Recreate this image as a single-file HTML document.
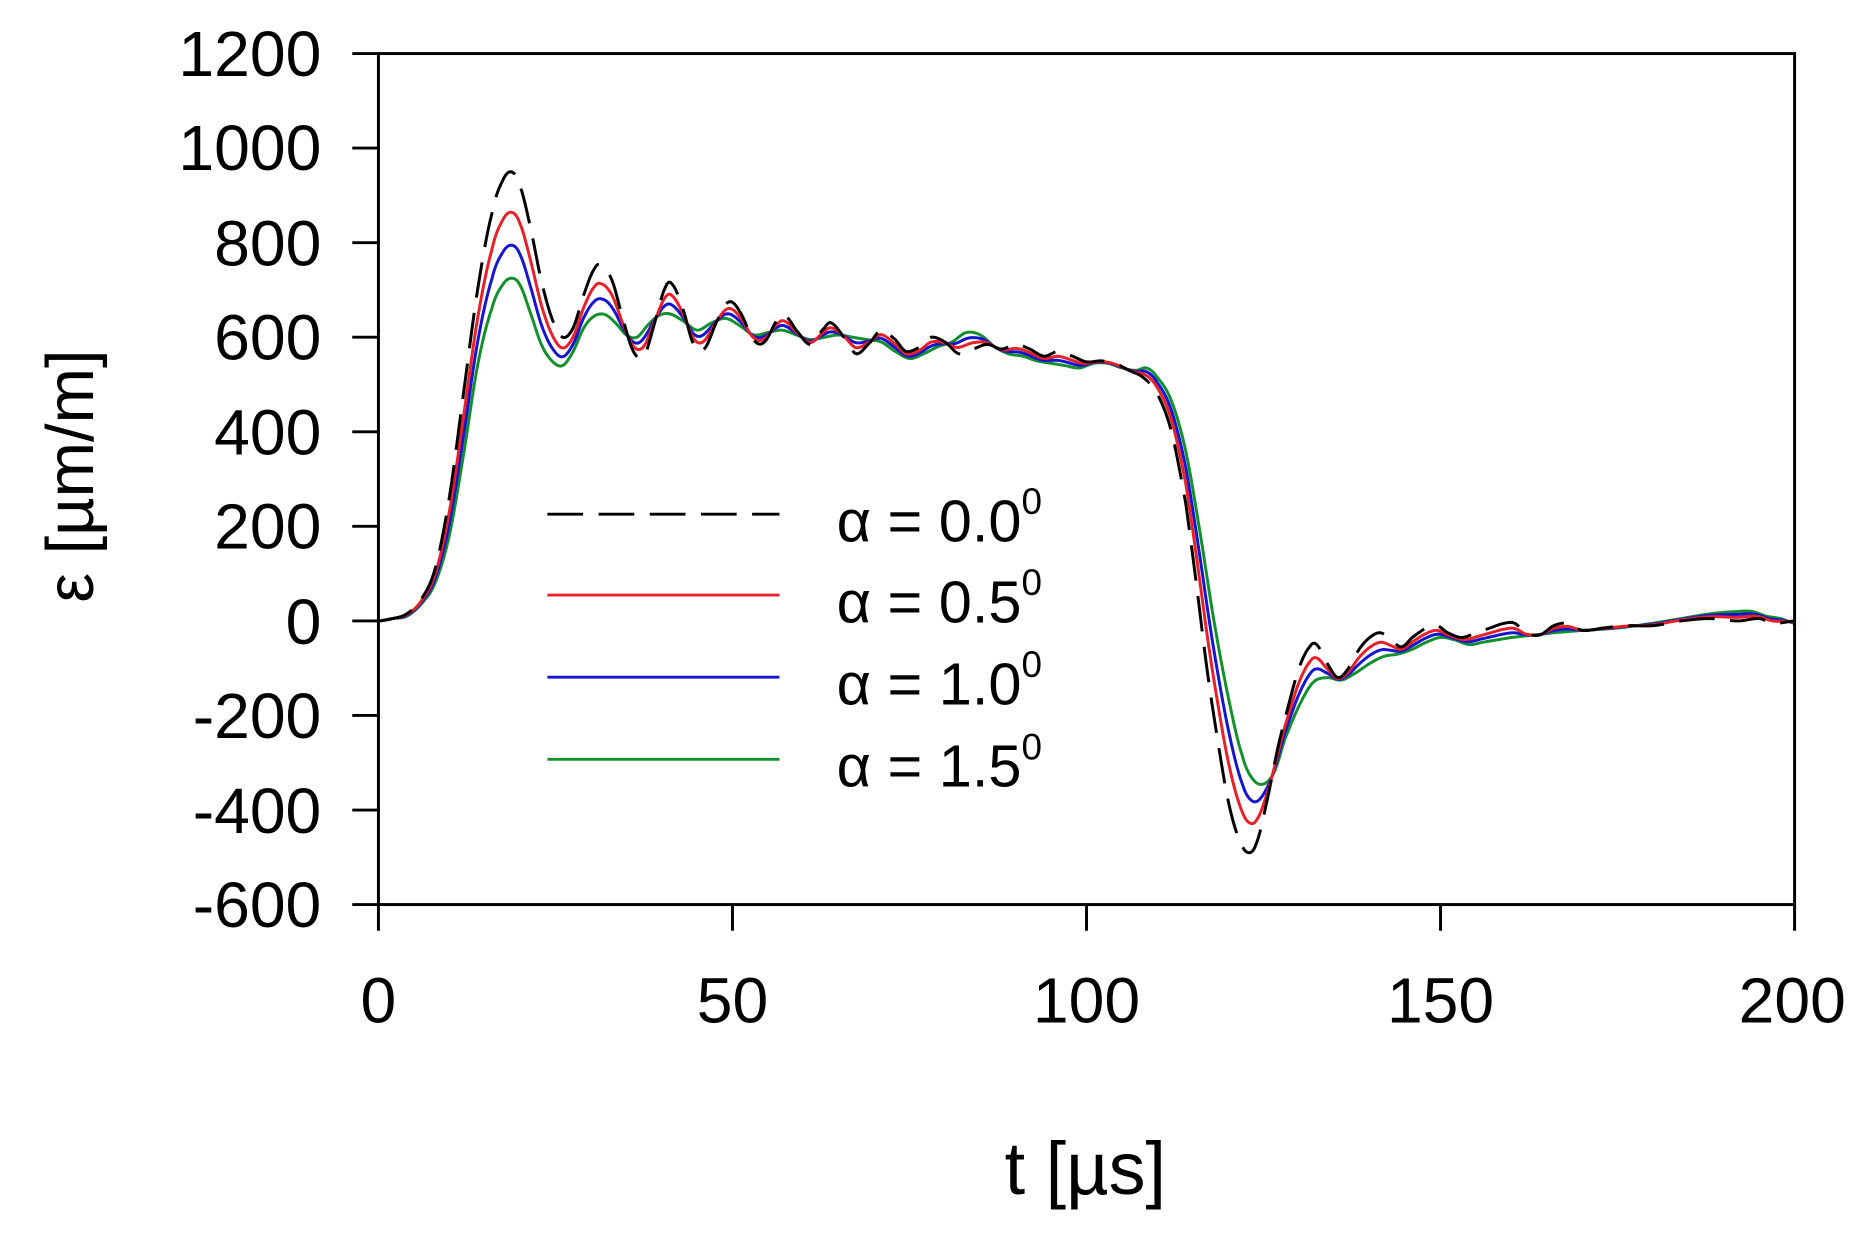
<!DOCTYPE html>
<html><head><meta charset="utf-8"><style>
html,body{margin:0;padding:0;background:#fff;}
svg{display:block;}
text{font-family:"Liberation Sans",Arial,sans-serif;fill:#000;}
</style></head><body>
<svg id="s" width="1866" height="1239" viewBox="0 0 1568 1041" preserveAspectRatio="none" xmlns="http://www.w3.org/2000/svg">
<rect x="0" y="0" width="1568" height="1041" fill="#fff"/>
<g id="curves"></g>
<rect x="318" y="45" width="1190" height="715" fill="none" stroke="#000" stroke-width="2.5"/>
<g stroke="#000" stroke-width="2.5">
<line x1="296" y1="45" x2="318" y2="45"/><line x1="296" y1="124.4" x2="318" y2="124.4"/><line x1="296" y1="203.9" x2="318" y2="203.9"/><line x1="296" y1="283.3" x2="318" y2="283.3"/><line x1="296" y1="362.8" x2="318" y2="362.8"/><line x1="296" y1="442.2" x2="318" y2="442.2"/><line x1="296" y1="521.7" x2="318" y2="521.7"/><line x1="296" y1="601.1" x2="318" y2="601.1"/><line x1="296" y1="680.6" x2="318" y2="680.6"/><line x1="296" y1="760" x2="318" y2="760"/>
<line x1="318" y1="760" x2="318" y2="782"/><line x1="615.5" y1="760" x2="615.5" y2="782"/><line x1="913" y1="760" x2="913" y2="782"/><line x1="1210.5" y1="760" x2="1210.5" y2="782"/><line x1="1508" y1="760" x2="1508" y2="782"/>
</g>
<g font-size="54" text-anchor="end">
<text x="270" y="64">1200</text><text x="270" y="143">1000</text><text x="270" y="223">800</text><text x="270" y="302">600</text><text x="270" y="382">400</text><text x="270" y="461">200</text><text x="270" y="541">0</text><text x="270" y="620">-200</text><text x="270" y="700">-400</text><text x="270" y="779">-600</text>
</g>
<g font-size="54" text-anchor="middle">
<text x="318" y="859">0</text><text x="615.5" y="859">50</text><text x="913" y="859">100</text><text x="1210.5" y="859">150</text><text x="1506" y="859">200</text>
</g>
<text x="912" y="1003" font-size="62" text-anchor="middle">t [µs]</text>
<text transform="translate(78,400) rotate(-90)" font-size="56" text-anchor="middle">ε [µm/m]</text>
<g stroke-width="2.4" fill="none">
<line x1="460" y1="432" x2="655" y2="432" stroke="#000" stroke-dasharray="30,13"/>
<line x1="460" y1="500" x2="655" y2="500" stroke="#e8202a"/>
<line x1="460" y1="569" x2="655" y2="569" stroke="#1515d0"/>
<line x1="460" y1="638" x2="655" y2="638" stroke="#12902e"/>
</g>
<g font-size="50">
<text x="703" y="455">α = 0.0<tspan font-size="31" dy="-23">0</tspan></text>
<text x="703" y="523">α = 0.5<tspan font-size="31" dy="-23">0</tspan></text>
<text x="703" y="592">α = 1.0<tspan font-size="31" dy="-23">0</tspan></text>
<text x="703" y="661">α = 1.5<tspan font-size="31" dy="-23">0</tspan></text>
</g>
</svg>
<script>
var B=[0,0,2,5,4,15,6,45,8,110,10,260,12,480,14,700,16,860,17.5,930,18.8,950,20,920,21.5,830,23,720,24.5,640,26,600,27.5,620,29,690,30.5,745,31.5,752,33,720,34.5,640,36,570,37.5,560,39,630,40.5,705,41.5,712,43,660,44.5,585,46,575,48,640,49.5,675,51,655,53,595,54.5,590,56.5,640,57.5,645,59,615,61,585,63,620,64,630,66,595,67.5,565,69.5,590,71,615,73,595,74.5,570,76.5,580,78,600,80,590,82,565,84,575,86,585,88,575,90,585,92,575,94,560,96,570,98,560,100,548,102,550,104,545,106,530,108,515,110,480,112,400,114,250,115.5,80,117,-100,118.5,-250,120,-380,121.5,-460,122.8,-490,124,-470,125.5,-380,127,-270,128.5,-180,130,-100,131.5,-55,132.5,-50,134,-90,135.5,-120,137,-100,138.5,-60,140,-35,141.5,-25,143,-40,144.5,-55,146,-35,148,-15,149.5,-10,151,-25,153,-35,155,-25,157,-15,159,-5,160.5,-5,162,-25,164,-30,166,-10,168,-5,170,-20,173,-15,176,-10,180,-10,184,0,188,5,192,0,195,5,197,-5,200,0];
var G=[0,0,2,5,4,10,6,35,8,80,10,180,12,350,14,540,16,660,17.5,710,18.8,725,20,710,21.5,650,23,585,24.5,550,26,540,27.5,570,29,620,30.5,645,32,648,33.5,630,35,605,36.5,600,38,625,39.5,645,41,650,43,635,45,615,47,630,49,640,51,625,53,605,55,610,57,615,59,605,61,595,63,600,65,605,67,600,69,595,71,590,73,570,75,555,77,565,79,580,81,590,83,610,85,605,87,580,89,565,91,560,93,550,95,545,97,540,99,535,101,545,103,545,105,535,107,530,108.5,535,110,515,112,465,114,360,116,190,118,0,120,-160,122,-285,123.5,-335,125,-345,126.5,-320,128,-250,130,-180,132,-130,134,-120,136,-125,138,-110,140,-90,142,-75,144,-70,146,-60,148,-45,150,-35,152,-40,154,-50,156,-45,158,-40,160,-35,163,-30,166,-25,170,-20,175,-15,180,-5,184,5,188,15,192,20,194,20,196,10,198,5,200,-5];
function mk(a){var p=[];for(var i=0;i<a.length;i+=2)p.push([a[i],a[i+1]]);return p;}
function ev(P,t){var n=P.length,i=0;while(i<n-2&&P[i+1][0]<t)i++;
var p0=P[Math.max(0,i-1)],p1=P[i],p2=P[i+1],p3=P[Math.min(n-1,i+2)];
var u=(t-p1[0])/(p2[0]-p1[0]);u=Math.max(0,Math.min(1,u));
var u2=u*u,u3=u2*u;
return 0.5*((2*p1[1])+(-p0[1]+p2[1])*u+(2*p0[1]-5*p1[1]+4*p2[1]-p3[1])*u2+(-p0[1]+3*p1[1]-3*p2[1]+p3[1])*u3);}
var PB=mk(B),PG=mk(G);
function X(t){return 318+t*5.95;}function Y(e){return 521.7-e*715/1800;}
function path(w){var d="";for(var t=0;t<=200.001;t+=0.25){var v=w*ev(PB,t)+(1-w)*ev(PG,t);d+=(t==0?"M":"L")+X(t).toFixed(2)+","+Y(v).toFixed(2);}return d;}
var g=document.getElementById("curves");
var spec=[[0,"#12902e",""],[0.31,"#1515d0",""],[0.62,"#e8202a",""],[1,"#000","30,13"]];
spec.forEach(function(s){var p=document.createElementNS("http://www.w3.org/2000/svg","path");
p.setAttribute("d",path(s[0]));p.setAttribute("fill","none");p.setAttribute("stroke",s[1]);p.setAttribute("stroke-width","2.5");
if(s[2])p.setAttribute("stroke-dasharray",s[2]);g.appendChild(p);});
</script>
</body></html>
